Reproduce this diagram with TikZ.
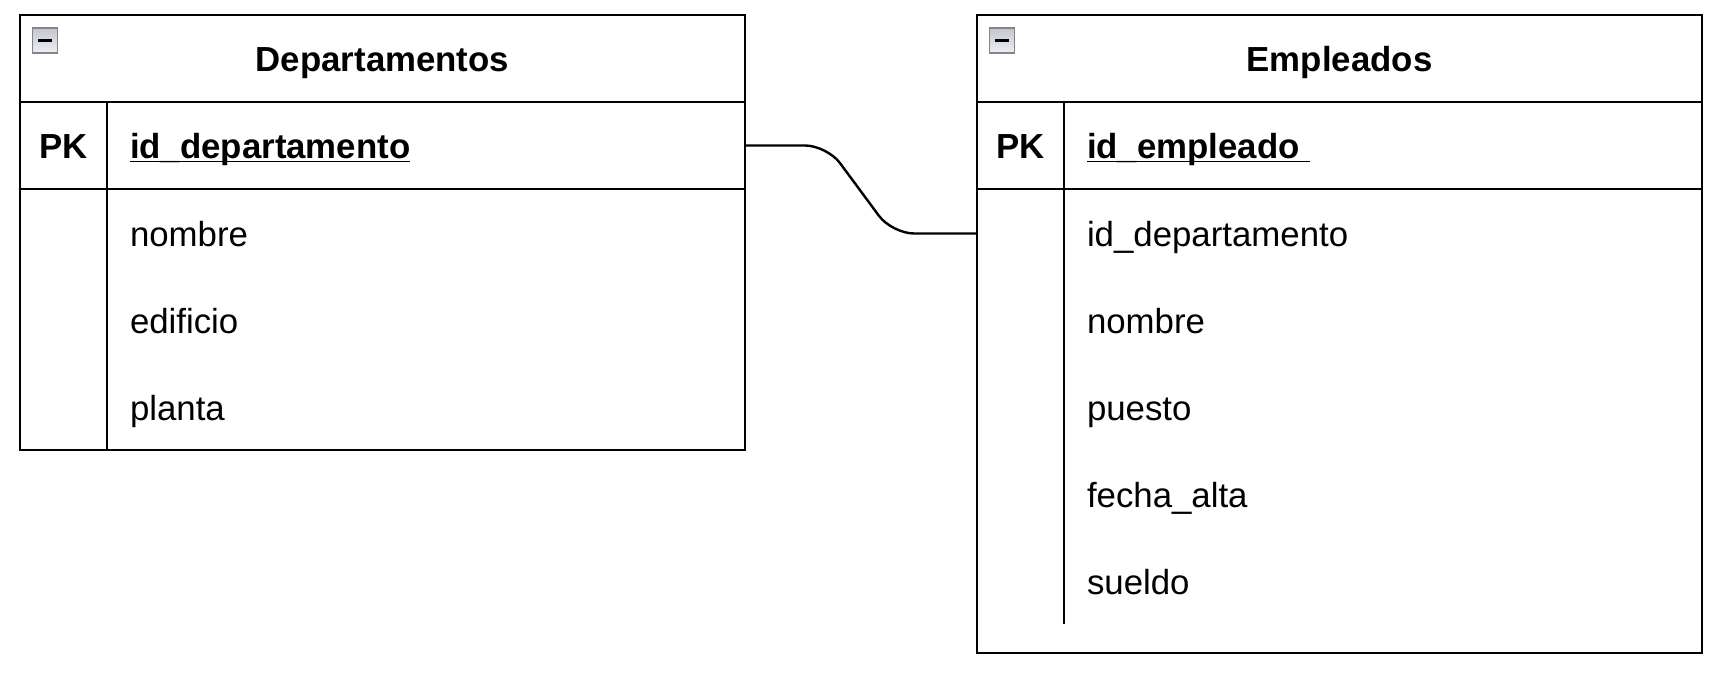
\documentclass[tikz,border=0pt]{standalone}
\usepackage{fontspec}
\setmainfont{Liberation Sans}
\usetikzlibrary{positioning}
\definecolor{togline}{RGB}{128,132,145}
\definecolor{togtop}{RGB}{196,198,206}
\definecolor{togbot}{RGB}{238,239,242}

\begin{document}
\begin{tikzpicture}[x=0.5pt, y=-0.5pt,
    every node/.style={outer sep=0pt, font=\fontsize{17.4}{20}\selectfont},
    box/.style={draw, line width=1.2pt, minimum width=362.5pt, inner sep=0pt},
    title/.style={box, minimum height=43.5pt, text height=12.5pt, text depth=0pt,
                  font=\fontsize{17.4}{20}\selectfont\bfseries},
    keyrow/.style={box, minimum height=43.5pt},
    field/.style={inner sep=0pt, anchor=west, text height=12.5pt, text depth=0pt},
    key/.style={field, anchor=center, font=\fontsize{17.4}{20}\selectfont\bfseries},
    keyname/.style={field, font=\fontsize{17.4}{20}\selectfont\bfseries},
    toggle/.style={draw=togline, line width=0.6pt, minimum size=12.5pt, inner sep=0pt,
                   top color=togtop, bottom color=togbot,
                   path picture={\fill[black]
                       ([xshift=-3.7pt, yshift=-0.85pt]path picture bounding box.center) rectangle
                       ([xshift=3.7pt, yshift=0.85pt]path picture bounding box.center);}}]

    \useasboundingbox (0,0) rectangle (1722,680);

    % Add the tables
    \node[title]                        (dep)     at (382.5,58.5)  {Departamentos};
    \node[keyrow, below=0pt of dep]     (deppk)   {};
    \node[box, minimum height=130.5pt, below=0pt of deppk] (depbody) {};

    \node[title]                        (emp)     at (1339.5,58.5) {Empleados};
    \node[keyrow, below=0pt of emp]     (emppk)   {};
    \node[box, minimum height=232pt, below=0pt of emppk]   (empbody) {};

    % Collapse buttons
    \node[toggle] (deptog) at (45,40.5)   {};
    \node[toggle] (emptog) at (1002,40.5) {};

    % Key column dividers
    \draw[line width=1.2pt] ([xshift=43.5pt]deppk.north west) -- ([xshift=43.5pt]depbody.south west);
    \draw[line width=1.2pt] ([xshift=43.5pt]emppk.north west) -- ([xshift=43.5pt, yshift=14.5pt]empbody.south west);

    % Primary keys
    \node[key]     (depkey) at (63.5,145.5)   {PK};
    \node[keyname] (depid)  at (130,145.5)    {id\_departamento};
    \node[key]     (empkey) at (1020.5,145.5) {PK};
    \node[keyname] (empid)  at (1087,145.5)   {id\_empleado};
    \draw[line width=0.9pt] ([yshift=-1.7pt]depid.base west) -- ([yshift=-1.7pt]depid.base east);
    \draw[line width=0.9pt] ([yshift=-1.7pt]empid.base west) -- ([xshift=5pt, yshift=-1.7pt]empid.base east);

    % Add the fields
    \foreach \f [count=\i] in {nombre, edificio, planta}
        \node[field] (depf\i) at (130, {233.5+87*(\i-1)}) {\f};
    \foreach \f [count=\i] in {id\_departamento, nombre, puesto, fecha\_alta, sueldo}
        \node[field] (empf\i) at (1087, {233.5+87*(\i-1)}) {\f};

    % Connect the tables
    \coordinate (empfk) at (empbody.west |- empf1.west);
    \draw[line width=1.2pt, rounded corners=11pt]
        (deppk.east) -- ([xshift=41pt]deppk.east) -- ([xshift=-42.5pt]empfk) -- (empfk);
\end{tikzpicture}
\end{document}
